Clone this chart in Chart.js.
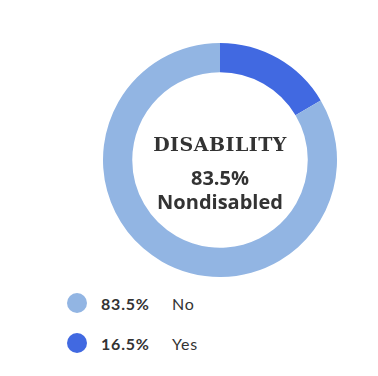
<!DOCTYPE html>
<html><head><meta charset="utf-8">
<script src="https://cdn.jsdelivr.net/npm/chart.js@4/dist/chart.umd.min.js"></script>
<style>
html,body{margin:0;padding:0;background:#fff;width:378px;height:376px;overflow:hidden;font-family:Lato,"DejaVu Sans",sans-serif;}
#wrap{position:absolute;left:103px;top:43px;width:234px;height:234px;}
#center{position:absolute;left:103px;top:43px;width:234px;height:234px;pointer-events:none;text-align:center;color:#333;}
#title{position:absolute;left:0;right:0;top:90px;font-family:"DejaVu Serif",serif;font-weight:bold;font-size:19px;letter-spacing:0.5px;}
#val{position:absolute;left:0;right:0;top:123px;font-family:"Open Sans",sans-serif;font-weight:bold;font-size:20px;line-height:24px;}
#legend{position:absolute;left:67px;top:283px;}
.item{display:flex;align-items:center;height:40px;}
.dot{width:20px;height:20px;border-radius:50%;margin-right:14px;}
.pct{font-weight:bold;font-size:16px;color:#333;width:71px;letter-spacing:0.8px;}
.lab{font-size:16px;color:#333;letter-spacing:0.8px;}
</style></head>
<body>
<div id="wrap"><canvas id="c"></canvas></div>
<div id="center"><div id="title"></div><div id="val"></div></div>
<div id="legend"></div>
<script>
const title = "DISABILITY";
const centerLabel = "Nondisabled";
const categories = ["Yes", "No"];
const values = [16.5, 83.5];
const colors = ["#4169e1", "#92b5e3"];
const legendOrder = [1, 0];

document.getElementById('title').textContent = title;
document.getElementById('val').innerHTML = values[1].toFixed(1) + "%<br>" + centerLabel;
const lg = document.getElementById('legend');
legendOrder.forEach(i => {
  const d = document.createElement('div'); d.className = 'item';
  d.innerHTML = '<div class="dot" style="background:' + colors[i] + '"></div><span class="pct">' + values[i].toFixed(1) + '%</span><span class="lab">' + categories[i] + '</span>';
  lg.appendChild(d);
});

new Chart(document.getElementById('c'), {
  type: 'doughnut',
  data: { labels: categories, datasets: [{ data: values, backgroundColor: colors, borderWidth: 0 }] },
  options: {
    responsive: true, maintainAspectRatio: false, animation: false,
    cutout: '75%',
    plugins: { legend: { display: false }, tooltip: { enabled: false } },
    layout: { padding: 0 }
  }
});
</script>
</body></html>
